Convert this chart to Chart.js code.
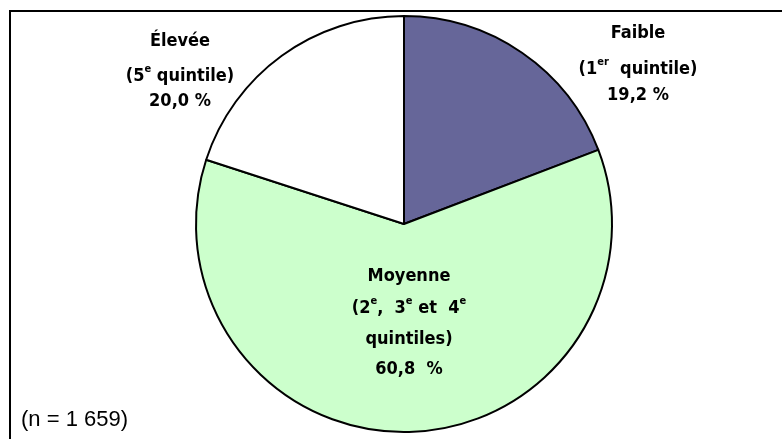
<!DOCTYPE html>
<html>
<head>
<meta charset="utf-8">
<script src="https://cdn.jsdelivr.net/npm/chart.js@4"></script>
<style>
  html, body { margin: 0; padding: 0; background: #fff; }
  #wrap { position: relative; width: 782px; height: 439px; overflow: hidden; }
  #frame { position: absolute; left: 9px; top: 10px; width: 900px; height: 600px;
           border-top: 2px solid #000; border-left: 2px solid #000; }
  #c { position: absolute; left: 0; top: 0; }
  #note { position: absolute; left: 21px; top: 406px; font: 22px "Liberation Sans Narrow", "Arial Narrow", sans-serif; color: #000; }
</style>
</head>
<body>
<div id="wrap">
  <div id="frame"></div>
  <canvas id="c" width="782" height="439"></canvas>
  <div id="note">(n = 1 659)</div>
</div>
<script>
// Données
const categories = ['Faible', 'Moyenne', 'Élevée'];
const values = [19.2, 60.8, 20.0];
const sliceColors = ['#666699', '#CCFFCC', '#FFFFFF'];

// Étiquettes : chaque ligne est une liste de morceaux [texte, exposant?]
const labelLines = [
  [[['Faible']], [['(1'], ['er', true], ['  quintile)']], [['19,2 %']]],
  [[['Moyenne']], [['(2'], ['e', true], [',  3'], ['e', true], [' et  4'], ['e', true]], [['quintiles)']], [['60,8  %']]],
  [[['Élevée']], [['(5'], ['e', true], [' quintile)']], [['20,0 %']]]
];

// position (x, y de la première ligne) et interligne pour chaque étiquette
const labelAnchors = [
  { x: 638, y: 38, gaps: [36, 26] },
  { x: 409, y: 281, gaps: [32, 31, 30] },
  { x: 180, y: 46, gaps: [35, 25] }
];

const mainFont = 'bold 18px "DejaVu Sans Condensed", "DejaVu Sans", sans-serif';
const supFont = 'bold 11px "DejaVu Sans Condensed", "DejaVu Sans", sans-serif';

function drawLine(ctx, parts, cx, y) {
  const widths = parts.map(([t, sup]) => {
    ctx.font = sup ? supFont : mainFont;
    return ctx.measureText(t).width;
  });
  let x = cx - widths.reduce((a, b) => a + b, 0) / 2;
  parts.forEach(([t, sup], i) => {
    ctx.font = sup ? supFont : mainFont;
    ctx.fillText(t, x, sup ? y - 9 : y);
    x += widths[i];
  });
}

const labelPlugin = {
  id: 'pieLabels',
  afterDraw(chart) {
    const ctx = chart.ctx;
    ctx.save();
    ctx.fillStyle = '#000';
    ctx.textAlign = 'left';
    ctx.textBaseline = 'alphabetic';
    labelLines.forEach((lines, i) => {
      const a = labelAnchors[i];
      let y = a.y;
      lines.forEach((parts, j) => {
        drawLine(ctx, parts, a.x, y);
        if (j < a.gaps.length) y += a.gaps[j];
      });
    });
    ctx.restore();
  }
};

new Chart(document.getElementById('c'), {
  type: 'pie',
  data: {
    labels: categories,
    datasets: [{
      data: values,
      backgroundColor: sliceColors,
      borderColor: '#000',
      borderWidth: 2,
      borderAlign: 'center'
    }]
  },
  options: {
    responsive: false,
    animation: false,
    layout: { padding: { left: 195, right: 169, top: 15, bottom: 6 } },
    plugins: {
      legend: { display: false },
      tooltip: { enabled: false }
    }
  },
  plugins: [labelPlugin]
});
</script>
</body>
</html>
